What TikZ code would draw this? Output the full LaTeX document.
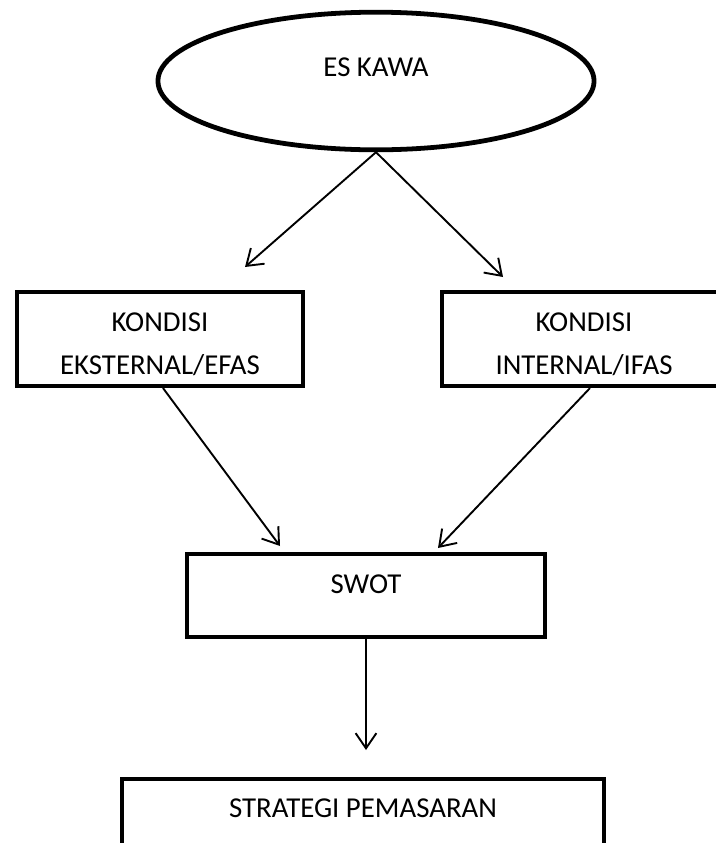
\documentclass[tikz,border=0pt]{standalone}
\usepackage{fontspec}
\setmainfont{Carlito}
\usetikzlibrary{shapes.geometric,positioning,arrows.meta}

\begin{document}
\begin{tikzpicture}[
    x=0.025cm, y=-0.025cm,
    every node/.style={font=\fontsize{20.5}{30.5}\selectfont},
    start/.style={draw, ellipse, line width=3.4pt, minimum width=10.9cm, minimum height=3.44cm, text height=0.5cm, text depth=0.75cm, anchor=base},
    box/.style={draw, rectangle, line width=2.9pt, minimum height=2.35cm, align=center},
    boxtop/.style={draw, rectangle, line width=2.9pt, inner ysep=0pt, anchor=base},
    flow/.style={line width=1.35pt, -{Straight Barb[length=3.8mm,width=5.2mm]}}
]
    \useasboundingbox (0,0) rectangle (716,843);
    \clip (0,0) rectangle (716,843);

    % starting point
    \node[start] (kawa) at (376,76) {ES KAWA};

    % external and internal conditions
    \node[box, minimum width=7.15cm] (efas) at (160,339) {\rule{0pt}{0.72cm}KONDISI\\EKSTERNAL/EFAS};
    \node[box, minimum width=7.1cm] (ifas) at (584,339) {\rule{0pt}{0.72cm}KONDISI\\INTERNAL/IFAS};

    % analysis and result (text sits near the top edge)
    \node[boxtop, minimum width=8.95cm, text height=0.975cm, text depth=1.1cm] (swot) at (366,593) {SWOT};
    \node[boxtop, minimum width=12.05cm, text height=0.95cm, text depth=2.5cm] (strat) at (363,817) {STRATEGI PEMASARAN};

    % arrow tips stop short of the boxes
    \coordinate (efasIn) at (245,267);
    \coordinate (ifasIn) at (503,277);
    \coordinate (swotInL) at (280,546);
    \coordinate (swotInR) at (438,548);
    \coordinate (stratIn) at (366,750);

    \draw[flow] (kawa.south) -- (efasIn);
    \draw[flow] (kawa.south) -- (ifasIn);
    \draw[flow] ([xshift=0.075cm]efas.south) -- (swotInL);
    \draw[flow] ([xshift=0.15cm]ifas.south) -- (swotInR);
    \draw[flow] (swot.south) -- (stratIn);
\end{tikzpicture}
\end{document}
